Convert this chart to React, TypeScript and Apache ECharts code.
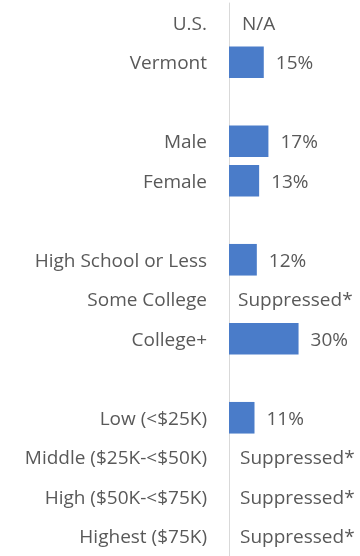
import React, { useEffect, useRef } from "react";
import * as echarts from "echarts";

const categories = [
  "U.S.",
  "Vermont",
  " ",
  "Male",
  "Female",
  "  ",
  "High School or Less",
  "Some College",
  "College+",
  "   ",
  "Low (<$25K)",
  "Middle ($25K-<$50K)",
  "High ($50K-<$75K)",
  "Highest ($75K)",
];
const values: (number | null)[] = [null, 15, null, 17, 13, null, 12, null, 30, null, 11, null, null, null];
const notes: (string | null)[] = [
  "N/A", null, null, null, null, null, null, "Suppressed*", null, null, null,
  "Suppressed*", "Suppressed*", "Suppressed*",
];

const FONT = "Open Sans";
const GRAY = "#595959";

export default function App() {
  const ref = useRef<HTMLDivElement>(null);
  useEffect(() => {
    if (!ref.current) return;
    const chart = echarts.init(ref.current, undefined, { renderer: "svg" });
    const data = values.map((v, i) => {
      if (v !== null) return { value: v };
      if (notes[i])
        return {
          value: 0,
          label: { formatter: notes[i] as string, distance: notes[i] === "N/A" ? 13 : i > 9 ? 11 : 9 },
        };
      return { value: null };
    });
    chart.setOption({
      animation: false,
      grid: { left: 229, right: 0, top: 3, bottom: 0, containLabel: false },
      xAxis: {
        type: "value",
        min: 0,
        max: 56.5,
        show: false,
      },
      yAxis: {
        type: "category",
        inverse: true,
        data: categories,
        axisLine: { show: true, lineStyle: { color: "#d9d9d9", width: 1 } },
        axisTick: { show: false },
        axisLabel: {
          color: GRAY,
          fontFamily: FONT,
          fontSize: 19,
          margin: 22,
        },
      },
      series: [
        {
          type: "bar",
          data,
          barCategoryGap: "20%",
          itemStyle: { color: "#4a7cc9" },
          label: {
            show: true,
            position: "right",
            distance: 12,
            color: GRAY,
            fontFamily: FONT,
            fontSize: 19,
            formatter: (p: any) => (p.value === null || p.value === undefined ? "" : p.value + "%"),
          },
        },
      ],
    });
    return () => chart.dispose();
  }, []);
  return (
    <div
      ref={ref}
      style={{ position: "fixed", left: 0, top: 0, width: 360, height: 556 }}
    />
  );
}
